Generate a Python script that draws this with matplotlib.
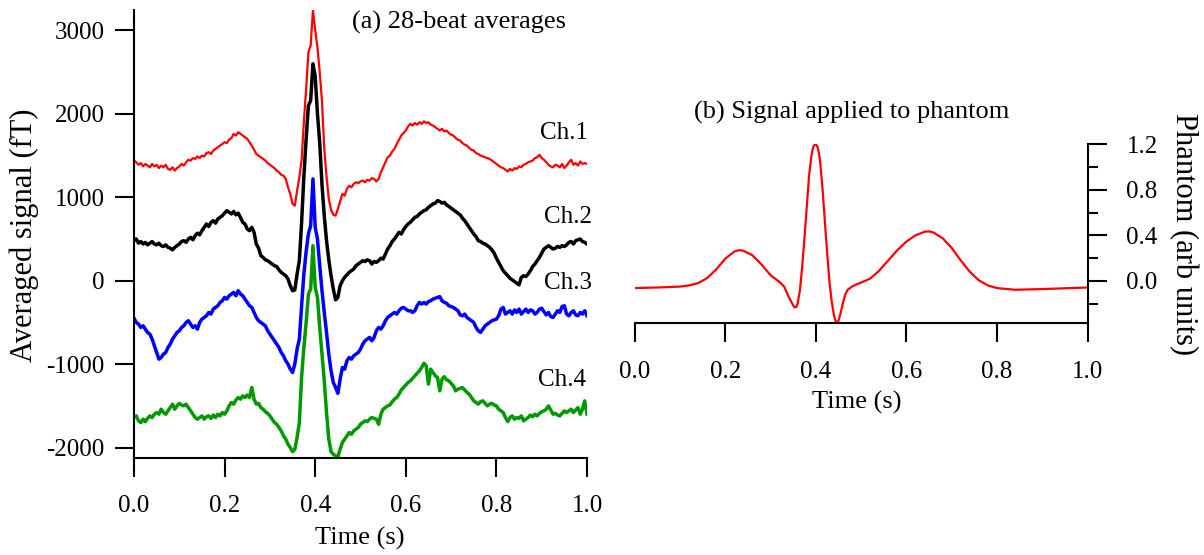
import numpy as np
import matplotlib
matplotlib.use("Agg")
import matplotlib.pyplot as plt
from matplotlib.ticker import FormatStrFormatter

plt.rcParams['font.family'] = ['Liberation Serif', 'DejaVu Serif']
plt.rcParams['axes.unicode_minus'] = False

# ---------------- data ----------------
time_s = np.round(np.arange(201) * 0.005, 3)

ch1 = [1440, 1420, 1390, 1410, 1370, 1400, 1380, 1360, 1400, 1370,
       1390, 1350, 1380, 1360, 1390, 1340, 1330, 1360, 1320, 1350,
       1370, 1400, 1380, 1420, 1450, 1440, 1470, 1460, 1490, 1470,
       1500, 1490, 1530, 1540, 1520, 1560, 1580, 1600, 1620, 1640,
       1660, 1650, 1690, 1710, 1760, 1740, 1780, 1760, 1740, 1720,
       1700, 1660, 1620, 1570, 1520, 1500, 1480, 1460, 1440, 1410,
       1390, 1370, 1350, 1320, 1300, 1270, 1260, 1220, 1120, 1040,
       920, 900, 1080, 1240, 1450, 1900, 2300, 2740, 2820, 3240,
       3000, 2800, 2500, 2150, 1580, 1250, 980, 850, 790, 780,
       860, 950, 1040, 1020, 1100, 1140, 1120, 1160, 1180, 1170,
       1190, 1200, 1180, 1210, 1200, 1230, 1220, 1190, 1220, 1300,
       1360, 1420, 1480, 1500, 1550, 1580, 1640, 1690, 1740, 1770,
       1800, 1850, 1880, 1860, 1890, 1870, 1900, 1880, 1910, 1890,
       1900, 1870, 1860, 1840, 1820, 1800, 1820, 1790, 1800, 1770,
       1750, 1740, 1710, 1690, 1680, 1650, 1630, 1620, 1590, 1570,
       1560, 1530, 1520, 1500, 1490, 1480, 1470, 1460, 1440, 1420,
       1400, 1380, 1360, 1350, 1330, 1310, 1340, 1320, 1350, 1340,
       1370, 1360, 1390, 1400, 1420, 1430, 1440, 1470, 1480, 1510,
       1470, 1450, 1420, 1390, 1370, 1360, 1390, 1380, 1360, 1400,
       1350, 1380, 1420, 1450, 1390, 1410, 1380, 1430, 1400, 1410,
       1400]

ch2 = [480, 500, 450, 470, 440, 460, 430, 450, 470, 440,
       430, 450, 420, 410, 430, 400, 390, 370, 400, 420,
       440, 470, 480, 460, 500, 520, 490, 540, 570, 550,
       600, 640, 680, 650, 700, 720, 690, 740, 760, 780,
       810, 840, 820, 800, 830, 790, 810, 760, 700, 680,
       620, 600, 640, 580, 440, 390, 300, 280, 250, 240,
       220, 200, 180, 170, 130, 100, 80, 60, 20, -60,
       -120, -110, 80, 240, 700, 1250, 1700, 2100, 2160, 2600,
       2450, 2000, 1650, 1150, 780, 480, 250, 60, -100, -230,
       -200, -60, 0, 40, 70, 100, 120, 140, 180, 200,
       220, 240, 230, 250, 240, 200, 230, 220, 240, 270,
       260, 320, 380, 420, 470, 500, 540, 580, 560, 610,
       650, 680, 700, 730, 760, 770, 800, 820, 840, 850,
       880, 900, 920, 930, 960, 950, 930, 940, 910, 890,
       870, 850, 830, 810, 790, 750, 720, 680, 640, 600,
       560, 530, 480, 470, 450, 440, 420, 400, 370, 330,
       270, 220, 170, 120, 90, 60, 30, 10, -10, -30,
       -50, 40, 60, 50, 80, 120, 170, 200, 240, 280,
       330, 380, 400, 420, 400, 380, 390, 410, 400, 420,
       410, 430, 460, 470, 440, 480, 490, 500, 470, 460,
       440]

ch3 = [-450, -500, -520, -560, -540, -580, -620, -640, -700, -780,
       -860, -940, -920, -880, -860, -800, -760, -700, -660, -620,
       -600, -560, -540, -500, -480, -520, -560, -540, -580, -500,
       -460, -440, -420, -380, -400, -340, -320, -300, -260, -240,
       -200, -220, -180, -160, -140, -180, -120, -160, -180, -220,
       -260, -300, -320, -380, -440, -480, -500, -520, -540, -600,
       -640, -680, -720, -760, -800, -860, -900, -960, -1000, -1060,
       -1100, -1000, -820, -700, -300, 80, 350, 560, 660, 1220,
       640, 500, 180, -120, -380, -620, -880, -1080, -1220, -1280,
       -1350, -1180, -1040, -1060, -960, -920, -940, -900, -880, -860,
       -820, -760, -720, -700, -680, -720, -680, -600, -560, -580,
       -540, -480, -440, -420, -400, -380, -400, -360, -330, -320,
       -340, -360, -360, -380, -360, -300, -260, -280, -260, -280,
       -250, -240, -220, -210, -200, -190, -240, -260, -270, -300,
       -310, -320, -340, -360, -410, -420, -400, -440, -460, -480,
       -500, -560, -600, -620, -580, -540, -520, -500, -480, -470,
       -460, -420, -340, -320, -400, -380, -360, -400, -350, -380,
       -340, -400, -370, -340, -380, -350, -360, -400, -380, -340,
       -330, -370, -410, -380, -430, -440, -400, -360, -380, -310,
       -300, -400, -420, -380, -360, -410, -420, -380, -400, -360,
       -420]

ch4 = [-1640, -1620, -1680, -1700, -1660, -1690, -1650, -1620, -1640, -1600,
       -1580, -1600, -1540, -1580, -1600, -1560, -1520, -1480, -1540, -1500,
       -1470, -1490, -1500, -1480, -1520, -1560, -1600, -1640, -1660, -1640,
       -1620, -1660, -1630, -1620, -1650, -1610, -1640, -1600, -1620, -1580,
       -1600, -1560, -1500, -1460, -1480, -1430, -1400, -1420, -1380, -1400,
       -1370, -1400, -1280, -1420, -1480, -1470, -1520, -1540, -1570, -1590,
       -1620, -1660, -1700, -1720, -1760, -1800, -1860, -1900, -1960, -2000,
       -2050, -2020, -1880, -1700, -1150, -800, -500, -160, -100, 420,
       -80, -200, -560, -880, -1200, -1580, -1900, -2050, -2080, -2100,
       -2115, -2020, -1940, -1900, -1860, -1820, -1840, -1800, -1780, -1760,
       -1720, -1700, -1680, -1690, -1660, -1640, -1650, -1660, -1720, -1600,
       -1540, -1520, -1500, -1490, -1450, -1420, -1400, -1360, -1310, -1280,
       -1250, -1220, -1200, -1170, -1140, -1110, -1080, -1040, -990, -1020,
       -1240, -1060, -1100, -1140, -1160, -1320, -1180, -1150, -1190, -1200,
       -1230, -1260, -1320, -1300, -1290, -1280, -1310, -1340, -1360, -1400,
       -1440, -1460, -1480, -1450, -1440, -1470, -1500, -1480, -1470, -1490,
       -1500, -1540, -1560, -1580, -1640, -1690, -1640, -1620, -1660, -1640,
       -1650, -1620, -1680, -1660, -1640, -1610, -1630, -1600, -1620, -1590,
       -1570, -1560, -1540, -1500, -1550, -1600, -1590, -1610, -1620, -1590,
       -1560, -1580, -1560, -1540, -1580, -1550, -1520, -1600, -1540, -1440,
       -1600]

channel_names = ['Ch.1', 'Ch.2', 'Ch.3', 'Ch.4']
channel_colors = ['#ff0000', '#000000', '#0000ff', '#009900']

phantom_t = [0.00, 0.05, 0.10, 0.12, 0.14, 0.16, 0.18, 0.20, 0.22, 0.23,
             0.24, 0.26, 0.28, 0.30, 0.31, 0.32, 0.33, 0.34, 0.35, 0.3525,
             0.355, 0.3575, 0.36, 0.365, 0.37, 0.375, 0.38, 0.385, 0.39, 0.3925,
             0.395, 0.3975, 0.40, 0.4025, 0.405, 0.4075, 0.41, 0.415, 0.42, 0.425,
             0.43, 0.435, 0.44, 0.4425, 0.445, 0.4475, 0.45, 0.455, 0.46, 0.465,
             0.47, 0.48, 0.49, 0.50, 0.52, 0.54, 0.56, 0.58, 0.60, 0.62,
             0.64, 0.65, 0.66, 0.68, 0.70, 0.72, 0.74, 0.76, 0.78, 0.80,
             0.84, 0.90, 0.95, 1.00]
phantom_v = [-0.063, -0.058, -0.050, -0.040, -0.020, 0.025, 0.100, 0.195, 0.258, 0.270,
             0.265, 0.225, 0.145, 0.050, 0.020, -0.010, -0.050, -0.140, -0.215, -0.230,
             -0.232, -0.225, -0.195, -0.080, 0.130, 0.380, 0.650, 0.920, 1.090, 1.150,
             1.182, 1.196, 1.198, 1.188, 1.160, 1.105, 1.030, 0.800, 0.520, 0.250,
             0.000, -0.180, -0.300, -0.340, -0.362, -0.365, -0.350, -0.280, -0.190, -0.120,
             -0.080, -0.050, -0.030, -0.015, 0.020, 0.090, 0.180, 0.270, 0.345, 0.400,
             0.432, 0.435, 0.425, 0.375, 0.290, 0.180, 0.080, 0.005, -0.040, -0.063,
             -0.078, -0.072, -0.065, -0.058]

time_ticks = [0.0, 0.2, 0.4, 0.6, 0.8, 1.0]
signal_ticks = [-2000, -1000, 0, 1000, 2000, 3000]
phantom_major = [0.0, 0.4, 0.8, 1.2]
phantom_minor = [-0.2, 0.2, 0.6, 1.0]

# ---------------- figure ----------------
W, H = 1204, 555
fig = plt.figure(figsize=(W / 100, H / 100), dpi=100)
FS_TICK = 18
FS_TEXT = 19
FS_YLAB = 22

def fx(px):
    return px / W

def fy(py):
    return 1 - py / H

# Left panel
ax1 = fig.add_axes([fx(134), fy(458), fx(587) - fx(134), fy(10) - fy(458)])
for vals, col in zip([ch1, ch2, ch3, ch4], channel_colors):
    lw = 1.6 if col == '#ff0000' else 2.5
    ax1.plot(time_s, vals, color=col, lw=lw)
ax1.set_xlim(0, 1)
ax1.set_ylim(-2125, 3245)
for s in ['top', 'right']:
    ax1.spines[s].set_visible(False)
for s in ['left', 'bottom']:
    ax1.spines[s].set_linewidth(1.5)
ax1.set_xticks(time_ticks)
ax1.set_yticks(signal_ticks)
ax1.xaxis.set_major_formatter(FormatStrFormatter('%.1f'))
ax1.tick_params(axis='both', direction='out', length=14, width=1.5, labelsize=FS_TICK)
ax1.tick_params(axis='x', pad=13)
ax1.tick_params(axis='y', pad=7)

label_pos = [(1.002, 1769), (1.010, 763), (1.010, -28), (0.997, -1189)]
for name, (lx, ly) in zip(channel_names, label_pos):
    ax1.text(lx, ly, name, ha='right', va='center', fontsize=FS_TICK, clip_on=False)

# Right panel
ax2 = fig.add_axes([fx(634.7), fy(323), fx(1087.5) - fx(634.7), fy(144.3) - fy(323)])
ax2.plot(phantom_t, phantom_v, color='#ff0000', lw=1.6)
ax2.set_xlim(0, 1)
ax2.set_ylim(-0.37, 1.2)
for s in ['top', 'left']:
    ax2.spines[s].set_visible(False)
for s in ['right', 'bottom']:
    ax2.spines[s].set_linewidth(1.5)
ax2.yaxis.tick_right()
ax2.set_xticks(time_ticks)
ax2.set_yticks(phantom_major)
ax2.set_yticks(phantom_minor, minor=True)
ax2.xaxis.set_major_formatter(FormatStrFormatter('%.1f'))
ax2.yaxis.set_major_formatter(FormatStrFormatter('%.1f'))
ax2.tick_params(axis='both', which='major', direction='out', length=14, width=1.5, labelsize=FS_TICK)
ax2.tick_params(axis='y', which='minor', direction='out', length=7, width=1.5)
ax2.tick_params(axis='x', pad=13)
ax2.tick_params(axis='y', which='major', pad=14)

# Texts
fig.text(fx(24), fy(235), 'Averaged signal (fT)', rotation=90, ha='center', va='center', fontsize=FS_YLAB)
fig.text(fx(360), fy(538), 'Time (s)', ha='center', va='center', fontsize=FS_TEXT)
fig.text(fx(857), fy(402), 'Time (s)', ha='center', va='center', fontsize=FS_TEXT)
fig.text(fx(1183), fy(234), 'Phantom (arb units)', rotation=270, ha='center', va='center', fontsize=FS_YLAB)
fig.text(fx(459), fy(22), '(a) 28-beat averages', ha='center', va='center', fontsize=FS_TEXT)
fig.text(fx(852), fy(112), '(b) Signal applied to phantom', ha='center', va='center', fontsize=FS_TEXT)

fig.savefig('out.png', dpi=100)
